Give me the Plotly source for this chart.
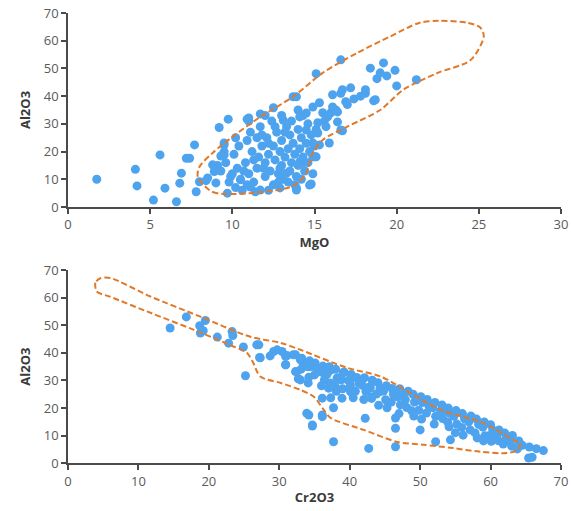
import plotly.graph_objects as go
from plotly.subplots import make_subplots

# ---------------- data: MgO vs Al2O3 (top) ----------------
mgo = [1.75, 4.1, 4.2, 5.2, 5.6, 5.9, 6.6, 6.9, 6.8, 7.2, 7.4, 7.7, 7.8, 8.0, 8.4,
       9.2, 9.75, 9.5, 9.3, 9.1, 8.9, 9.7, 10.9, 11.7, 12.5, 13.7, 13.1,
       11.0, 9.5, 8.8, 9.5, 8.5, 9.0, 10.5, 11.1, 11.7, 12.9, 13.9, 14.7, 14.1, 15.1, 14.9,
       16.6, 15.1, 18.4, 19.2, 19.9, 19.0, 19.4, 18.8, 20.0, 21.2, 18.1, 18.1, 18.6,
       17.2, 16.7, 16.6, 16.1, 15.3, 14.9, 16.1, 16.4, 15.8, 14.5, 14.1, 16.4, 15.2,
       14.5, 15.2, 16.7, 15.9, 15.3, 14.9, 18.7, 13.9, 14.8, 13.9, 16.6, 15.0, 14.3, 13.3,
       10.0, 10.3, 10.5, 10.8, 11.0, 11.2, 11.3, 11.5, 11.6, 11.8, 12.0, 12.0, 12.1, 12.2,
       12.3, 12.5, 12.5, 12.6, 12.7, 12.8, 12.9, 13.0, 13.0, 13.1, 13.2, 13.3, 13.4, 13.5,
       13.5, 13.6, 13.7, 13.8, 13.9, 14.0, 14.0, 14.1, 14.2, 14.3, 14.4, 14.5, 14.6, 14.7,
       14.8, 15.0, 15.1, 10.2, 10.6, 11.4, 12.2, 9.8, 9.6, 10.1, 10.4, 10.9, 11.1, 11.7,
       12.4, 13.0, 9.3, 9.9, 10.7, 11.9, 12.9, 13.4, 14.2, 11.3, 12.2, 13.6, 14.3, 12.0,
       11.0, 10.2, 9.5, 11.5, 12.8, 13.8, 10.9, 14.9, 14.6, 15.6, 16.0, 17.0, 17.4, 16.3,
       15.5, 17.8, 16.9, 15.7, 14.0, 13.2, 12.6, 11.8]
al_top = [10.0, 13.6, 7.6, 2.5, 18.8, 6.8, 1.9, 12.2, 8.6, 17.6, 17.6, 22.4, 5.5, 9.1, 9.5,
          28.7, 31.7, 22.4, 18.4, 15.0, 12.8, 5.0, 31.7, 33.6, 35.8, 39.8, 31.3,
          32.1, 23.1, 15.2, 18.8, 10.5, 8.7, 9.8, 7.2, 6.1, 6.9, 6.9, 7.9, 16.3, 18.1, 23.1,
          53.1, 48.1, 50.1, 52.0, 49.3, 48.4, 47.3, 46.3, 43.7, 45.9, 42.3, 41.0, 38.3,
          43.0, 42.3, 41.0, 40.5, 37.6, 36.1, 36.1, 34.3, 32.5, 33.9, 32.5, 30.7, 30.4,
          27.8, 26.7, 27.5, 23.1, 22.4, 18.1, 38.7, 39.8, 8.3, 6.1, 27.8, 18.1, 15.9, 12.2,
          12.0, 14.0, 10.0, 16.0, 12.0, 20.0, 9.0, 14.0, 18.0, 22.0, 11.0, 16.0, 25.0, 19.0,
          13.0, 8.0, 22.0, 17.0, 27.0, 12.0, 20.0, 15.0, 24.0, 10.0, 18.0, 29.0, 21.0, 13.0,
          26.0, 16.0, 23.0, 19.0, 11.0, 28.0, 15.0, 21.0, 25.0, 18.0, 13.0, 23.0, 30.0, 20.0,
          26.0, 22.0, 28.0, 7.0, 6.0, 5.5, 6.0, 9.0, 16.0, 19.0, 22.0, 24.0, 27.0, 29.0,
          31.0, 33.0, 13.0, 11.0, 13.0, 14.0, 14.0, 9.0, 10.0, 17.0, 23.0, 31.0, 33.0, 33.0,
          31.0, 25.0, 20.0, 25.0, 9.0, 8.0, 8.0, 12.0, 16.0, 31.0, 34.0, 37.0, 39.0, 35.0,
          34.0, 40.0, 38.0, 29.0, 35.0, 27.0, 29.0, 26.0]

# outline field, top
mgo_field = [7.9, 8.8, 11.1, 13.7, 14.5, 14.9, 15.5, 17.0, 19.0, 20.4, 22.5, 24.5,
             25.3, 25.1, 24.3, 22.6, 21.4, 19.6, 17.6, 15.5, 13.7, 11.7, 10.0, 8.8, 8.0, 7.9]
al_field_top = [10.8, 5.4, 5.0, 7.6, 12.2, 19.5, 24.2, 29.0, 35.0, 42.3, 48.4, 53.0,
                61.5, 64.7, 66.5, 67.2, 66.5, 61.5, 55.6, 48.4, 39.8, 32.5, 25.3, 19.5, 14.5, 10.8]

# ---------------- data: Cr2O3 vs Al2O3 (bottom) ----------------
cr = [14.5, 16.8, 18.7, 19.5, 18.8, 19.2, 21.2, 23.3, 23.4, 22.8, 24.9, 25.2, 26.8, 27.2,
      28.7, 29.2, 30.4, 30.9, 31.1, 32.3, 32.3, 32.7,
      27.1, 27.3, 29.7, 30.9, 30.9, 32.0, 33.0, 32.5, 33.0, 34.1, 34.4, 35.4, 36.3, 37.3,
      38.2, 39.1, 40.1, 41.5, 42.9, 44.3, 37.0, 36.1, 37.3, 37.7, 38.9, 40.1, 40.5, 34.2,
      36.1, 34.7, 37.7, 42.2, 42.7, 43.1,
      33.9, 34.7, 36.1, 46.5, 46.5, 46.5, 50.0, 52.2, 54.3, 47.7, 53.3, 59.0, 57.3,
      65.4, 65.9, 67.5, 66.5, 65.5, 64.5,
      33.2, 33.4, 33.1, 34.3, 34.0, 34.2, 35.1, 35.3, 35.0, 36.2, 35.9, 36.4, 36.0,
      37.1, 36.8, 37.2, 38.0, 38.3, 37.9, 38.1, 39.2, 38.8, 39.0, 40.2, 39.8, 40.1, 40.4,
      41.0, 41.3, 40.8, 42.1, 41.8, 42.3, 42.0, 43.2, 42.9, 43.1, 44.0, 44.3, 43.8, 44.1,
      45.2, 44.8, 45.1, 45.3, 46.0, 46.2, 45.9, 47.1, 46.8, 47.2, 47.0, 48.3, 47.9, 48.1,
      49.0, 49.2, 48.8, 49.1, 50.1, 50.3, 49.8, 50.2, 51.0, 51.2, 50.9, 52.1, 51.8, 52.2,
      52.0, 53.1, 52.9, 53.2, 54.0, 54.2, 53.9, 54.1, 55.1, 54.8, 55.2, 55.0, 56.0, 56.3,
      55.9, 56.1, 57.2, 56.9, 57.1, 58.0, 58.3, 57.8, 58.1, 59.1, 58.9, 59.2, 59.0, 60.0,
      60.3, 59.8, 60.1, 61.2, 60.9, 61.1, 62.0, 62.2, 61.8, 63.1, 62.8, 63.0, 64.0, 64.2, 63.8]
al_bot = [49.0, 53.0, 49.8, 51.7, 47.2, 48.0, 45.7, 47.7, 46.3, 43.5, 42.1, 31.7, 42.9, 38.3,
          38.9, 40.5, 40.5, 35.7, 39.0, 39.3, 33.2, 30.6,
          42.9, 38.2, 41.1, 38.7, 35.7, 39.3, 37.5, 33.2, 30.2, 29.1, 35.0, 33.8, 32.8, 33.8,
          30.8, 32.8, 30.2, 29.1, 27.8, 26.0, 27.2, 23.6, 23.7, 20.1, 23.6, 26.0, 23.7, 17.5,
          16.9, 13.5, 7.8, 16.3, 5.4, 23.5,
          18.1, 13.9, 17.5, 6.0, 12.7, 16.4, 12.1, 7.8, 8.5, 25.4, 18.7, 14.6, 16.8,
          1.9, 2.2, 4.6, 5.3, 5.9, 6.5,
          38.0, 36.2, 34.1, 37.1, 35.0, 31.2, 36.3, 34.2, 32.0, 35.2, 33.1, 30.2, 28.1,
          35.0, 32.3, 29.1, 34.1, 31.0, 28.2, 26.1, 33.1, 30.2, 27.0, 32.2, 30.0, 28.1, 25.2,
          31.1, 29.0, 26.1, 31.0, 28.2, 26.0, 23.1, 30.1, 27.2, 24.0, 29.2, 27.0, 25.1, 21.0,
          28.1, 26.2, 23.0, 20.1, 27.1, 25.0, 22.2, 27.0, 24.1, 21.2, 18.0, 26.1, 23.0, 20.2,
          25.0, 22.2, 19.0, 17.1, 24.1, 22.0, 19.2, 16.0, 23.1, 21.0, 18.2, 22.0, 20.1, 17.0,
          14.2, 21.1, 19.0, 16.2, 20.0, 18.1, 15.0, 13.2, 19.1, 17.0, 14.2, 11.1, 18.0, 16.1,
          13.0, 10.2, 17.1, 15.0, 12.1, 16.0, 14.1, 11.0, 9.2, 15.0, 13.1, 10.0, 8.1, 14.0,
          12.1, 10.0, 8.0, 12.1, 10.0, 8.2, 11.0, 9.1, 7.0, 10.1, 8.0, 6.2, 8.1, 7.0, 5.2]

cr_field = [4.6, 3.9, 4.1, 6.0, 11.7, 17.8, 23.5, 25.4, 26.3, 27.3, 30.2, 33.0, 34.9, 36.3,
            37.3, 42.0, 46.8, 50.5, 54.7, 58.5, 62.3, 63.8, 64.2, 63.3, 58.6, 52.9, 44.4,
            39.6, 33.0, 30.2, 25.9, 18.8, 11.7, 6.0, 4.6]
al_field_bot = [67.0, 65.4, 62.2, 60.3, 54.5, 48.4, 42.3, 40.0, 36.4, 31.4, 29.1, 26.6, 24.1,
                19.4, 16.4, 12.1, 7.7, 6.7, 5.5, 4.2, 3.7, 4.8, 7.3, 8.4, 15.0, 19.4, 31.4,
                34.6, 41.1, 43.6, 45.8, 53.1, 60.4, 67.1, 67.0]

x_titles = ["MgO", "Cr2O3"]
y_title = "Al2O3"

BLUE = "#4ea3ee"
ORANGE = "#e07a2a"
AXC = "#4a4a4a"
TXT = "#5a5a5a"

fig = make_subplots(rows=2, cols=1, vertical_spacing=0.12)

fig.add_trace(go.Scatter(x=mgo, y=al_top, mode="markers",
                         marker=dict(color=BLUE, size=9, line=dict(width=0)),
                         showlegend=False), row=1, col=1)
fig.add_trace(go.Scatter(x=mgo_field, y=al_field_top, mode="lines",
                         line=dict(color=ORANGE, width=2, dash="6px,3px", shape="spline", smoothing=0.8),
                         showlegend=False), row=1, col=1)
fig.add_trace(go.Scatter(x=cr, y=al_bot, mode="markers",
                         marker=dict(color=BLUE, size=9, line=dict(width=0)),
                         showlegend=False), row=2, col=1)
fig.add_trace(go.Scatter(x=cr_field, y=al_field_bot, mode="lines",
                         line=dict(color=ORANGE, width=2, dash="6px,3px", shape="spline", smoothing=0.8),
                         showlegend=False), row=2, col=1)

H = 511
axis_common = dict(showgrid=False, zeroline=False, showline=True, linecolor=AXC, linewidth=1.5,
                   ticks="outside", ticklen=5, tickcolor=AXC, tickwidth=1.5,
                   tickfont=dict(family="Open Sans", size=13, color=TXT))

fig.update_xaxes(**axis_common)
fig.update_yaxes(**axis_common)

title_font = dict(family="Open Sans", size=13, color="#3a3a3a")
fig.update_layout(
    width=571, height=511,
    margin=dict(l=68, r=10, t=0, b=0),
    plot_bgcolor="white", paper_bgcolor="white",
    xaxis=dict(domain=[0, 1], range=[0, 30], dtick=5, automargin=False,
               title=dict(text="<b>%s</b>" % x_titles[0], standoff=4, font=title_font)),
    yaxis=dict(domain=[1 - 207 / H, 1 - 13 / H], range=[0, 70], dtick=10, automargin=False,
               title=dict(text="<b>%s</b>" % y_title, standoff=10, font=title_font)),
    xaxis2=dict(domain=[0, 1], range=[0, 70], dtick=10, automargin=False,
                title=dict(text="<b>%s</b>" % x_titles[1], standoff=4, font=title_font)),
    yaxis2=dict(domain=[1 - 463.3 / H, 1 - 270 / H], range=[0, 70], dtick=10, automargin=False,
                title=dict(text="<b>%s</b>" % y_title, standoff=10, font=title_font)),
)

fig.write_html("out.html")
